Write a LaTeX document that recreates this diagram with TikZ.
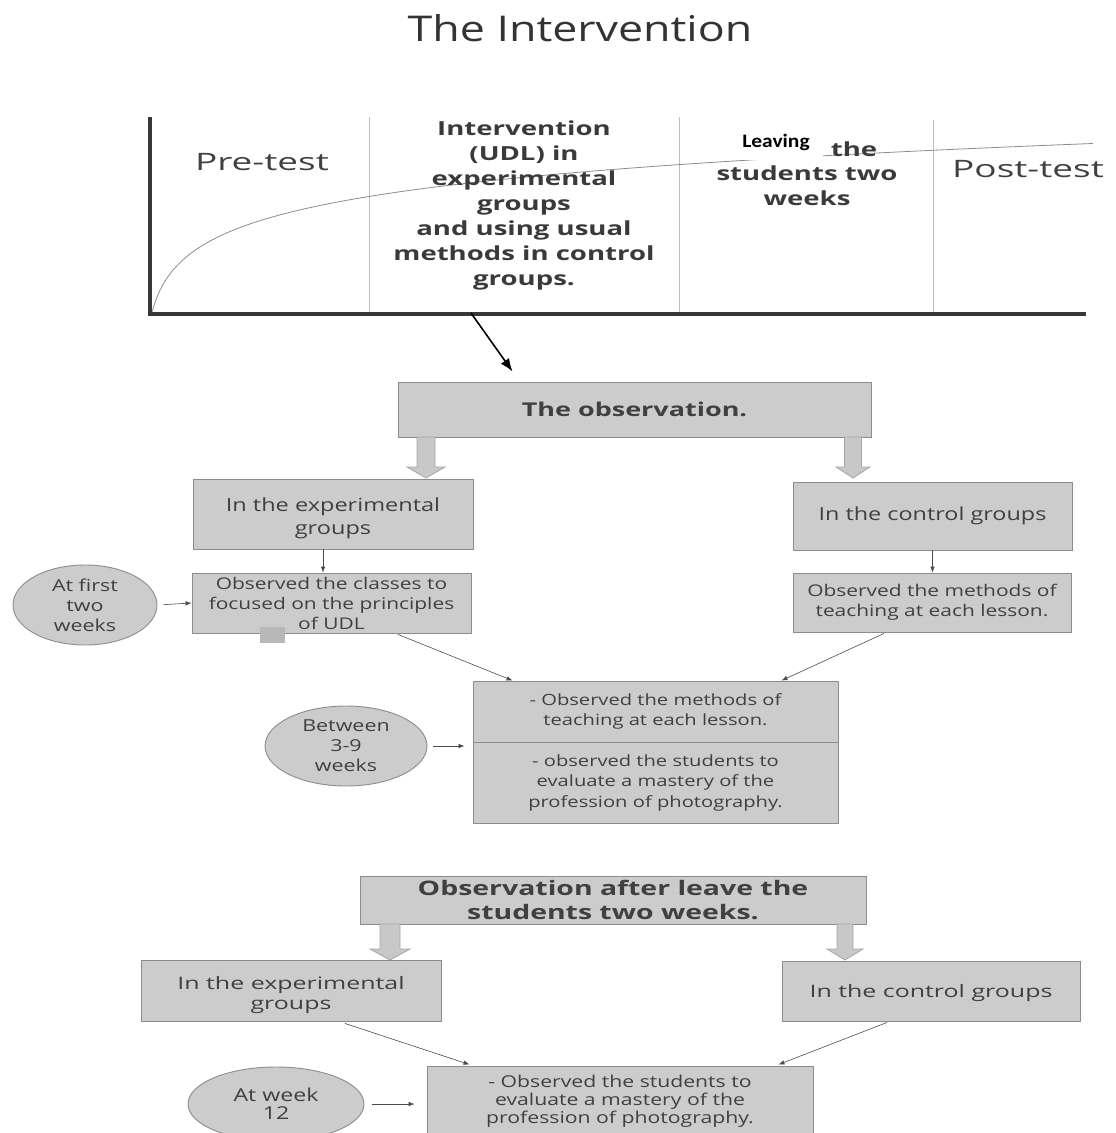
\documentclass[tikz,border=0pt]{standalone}
\usepackage{fontspec}
\setmainfont{Open Sans}
\newfontfamily\fa{Open Sans}[FakeStretch=1.3]
\newfontfamily\fc{Open Sans}[FakeStretch=1.45]
\newfontfamily\fd{Open Sans}[FakeStretch=1.42]
\newfontfamily\fb{Open Sans}[FakeStretch=1.54]
\newfontfamily\ft{Open Sans}[FakeStretch=1.26]
\newfontfamily\calib{Carlito}[FakeStretch=1.13]
\usetikzlibrary{arrows.meta,calc,shapes.geometric}
\definecolor{boxfill}{HTML}{CCCCCC}
\definecolor{boxline}{HTML}{8C8C8C}
\definecolor{txt}{HTML}{404040}
\definecolor{axiscol}{HTML}{383838}
\definecolor{thincol}{HTML}{BDBDBD}
\definecolor{arrfill}{HTML}{C8C8C8}
\definecolor{arrline}{HTML}{A6A6A6}
\newcommand\barrow[6]{\draw[barrowst] (#1-#5,#2) -- (#1+#5,#2) -- (#1+#5,#3) -- (#1+#6,#3) -- (#1,#4) -- (#1-#6,#3) -- (#1-#5,#3) -- cycle;}
\tikzset{
  box/.style={draw=boxline, line width=0.9pt, fill=boxfill, text=txt, align=center, inner sep=0pt,
    font=\fa\fontsize{16.5}{20}\selectfont},
  boxtext/.style={text=txt, align=center, inner sep=0pt},
  oval/.style={ellipse, draw=boxline, line width=0.9pt, fill=boxfill, text=txt, align=center, inner sep=0pt,
    font=\fa\fontsize{16.5}{20}\selectfont},
  hbox/.style={box, font=\fd\bfseries\fontsize{19}{24}\selectfont},
  barrowst/.style={draw=arrline, fill=arrfill, line width=0.8pt},
  conn/.style={draw=black!70, line width=0.6pt, -{Latex[length=6pt,width=4.5pt]}},
  chartlbl/.style={text=txt, font=\fb\fontsize{24}{28}\selectfont},
  chartbold/.style={text=txt!90!black, align=center, font=\fd\bfseries\fontsize{19.4}{25}\selectfont},
}
\begin{document}
\begin{tikzpicture}[x=1pt,y=-1pt]
\useasboundingbox (0,0) rectangle (1116,1133);
\clip (0,0) rectangle (1116,1133);
% title
\node[text=black!80, font=\ft\fontsize{35.5}{40}\selectfont] (title) at (580,28) {The Intervention};
% chart
\draw[thincol, line width=0.8pt] (369,117) -- (369,313);
\draw[thincol, line width=0.8pt] (679,117) -- (679,313);
\draw[thincol, line width=0.8pt] (933,120) -- (933,312);
\draw[black!45, line width=0.8pt] plot[domain=0:941, samples=240, smooth] ({152+\x}, {312-37*ln(1+\x/10)});
\draw[axiscol, line width=4pt] (150,117) -- (150,316);
\draw[axiscol, line width=3.5pt] (148,314) -- (1086,314);
\node[chartlbl] (pre) at (262,162) {Pre-test};
\node[chartbold] (interv) at (524,205) {Intervention\\(UDL) in\\experimental\\groups\\and using usual\\methods in control\\groups.};
\fill[white] (735,122) rectangle (823,159.5);
\node[font=\calib\bfseries\fontsize{19}{22}\selectfont, text=black, inner sep=0pt] (leav) at (776,142) {Leaving};
\node[chartbold] (the) at (854,149) {the};
\node[chartbold] (stud) at (807,186) {students two\\weeks};
\node[chartlbl] (post) at (1028,169) {Post-test};
\coordinate (axpt) at (471,313);
% observation
\node[hbox, minimum width=473pt, minimum height=55pt] (obs) at (634.5,409.5) {The observation.};
\draw[black, line width=1.6pt, -{Latex[length=13pt,width=10pt]}] (axpt) -- ([xshift=115pt,yshift=10pt]obs.north west);
\barrow{426}{437}{467}{478}{9}{19}
\barrow{853}{437}{467}{478}{8.5}{17}
\node[box, minimum width=280pt, minimum height=70pt] (exp1) at (333,514) {};
\node[boxtext, font=\fa\fontsize{18.1}{23}\selectfont] (exp1t) at ([yshift=-4pt]exp1.center) {In the experimental\\groups};
\node[box, minimum width=279pt, minimum height=68pt, font=\fa\fontsize{18}{23}\selectfont] (ctl1) at (932.5,516) {In the control groups};
\node[box, minimum width=279pt, minimum height=60pt, font=\fa\fontsize{16.1}{20}\selectfont] (exp2) at (331.5,603) {Observed the classes to\\focused on the principles\\of UDL};
\node[box, minimum width=278pt, minimum height=59pt, font=\fa\fontsize{16.1}{20}\selectfont] (ctl2) at (932,602.5) {Observed the methods of\\teaching at each lesson.};
\node[box, minimum width=365pt, minimum height=61pt, font=\fa\fontsize{15.5}{20}\selectfont] (midA) at (655.5,711.5) {- Observed the methods of\\teaching at each lesson.};
\node[box, minimum width=365pt, minimum height=81pt, font=\fa\fontsize{15.5}{20.5}\selectfont] (midB) at (655.5,782.5) {- observed the students to\\evaluate a mastery of the\\profession of photography.};
\node[oval, minimum width=144pt, minimum height=80pt] (ell1) at (85,605) {At first\\two\\weeks};
\node[oval, minimum width=162pt, minimum height=80pt] (ell2) at (346,746) {Between\\3-9\\weeks};
\fill[boxfill!90!black] (260,627) rectangle (285,643);
\draw[conn] ([xshift=-10pt]exp1.south) -- ([xshift=-10pt]exp1.south |- exp2.north);
\draw[conn] (ctl1.south) -- (ctl1.south |- ctl2.north);
\draw[conn, shorten <=6pt] (ell1.east) -- (exp2.west);
\draw[conn] ([xshift=66.5pt,yshift=-1pt]exp2.south) -- ([xshift=40pt]midA.north west);
\draw[conn] ([xshift=-48pt,yshift=-1pt]ctl2.south) -- ([xshift=-57pt]midA.north east);
\draw[conn, shorten <=6pt, shorten >=8pt] (ell2.east) -- (ell2.east -| midA.west);
% second part
\node[hbox, minimum width=506pt, minimum height=48pt, font=\fd\bfseries\fontsize{20}{24}\selectfont] (obs2) at (613,900) {Observation after leave the\\students two weeks.};
\barrow{390}{924}{949}{960}{10}{20}
\barrow{845}{924}{949}{960}{8}{18}
\node[box, minimum width=300pt, minimum height=61pt] (exp3) at (291,990.5) {};
\node[boxtext, font=\fc\fontsize{17.2}{20}\selectfont] (exp3t) at ([yshift=-5pt]exp3.center) {In the experimental\\groups};
\node[box, minimum width=298pt, minimum height=60pt] (ctl3) at (931,991) {};
\node[boxtext, font=\fc\fontsize{17.2}{20}\selectfont] (ctl3t) at ([yshift=-2.5pt]ctl3.center) {In the control groups};
\node[box, minimum width=386pt, minimum height=70pt, font=\fa\fontsize{16.3}{18}\selectfont] (bot) at (620,1101.5) {- Observed the students to\\evaluate a mastery of the\\profession of photography.};
\node[oval, minimum width=176pt, minimum height=74pt, font=\fa\fontsize{17.8}{18}\selectfont] (ell3) at (276,1104) {At week\\12};
\draw[conn] ([xshift=54pt,yshift=-2pt]exp3.south) -- ([xshift=43pt,yshift=1.5pt]bot.north west);
\draw[conn] ([xshift=-44pt,yshift=-1pt]ctl3.south) -- ([xshift=-35pt,yshift=1.5pt]bot.north east);
\draw[conn, shorten <=8pt, shorten >=12pt] (ell3.east) -- (ell3.east -| bot.west);
\end{tikzpicture}
\end{document}
